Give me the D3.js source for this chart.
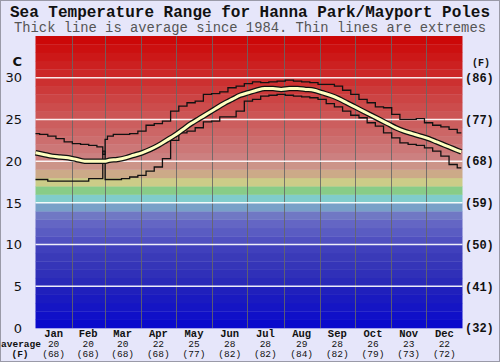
<!DOCTYPE html>
<html><head><meta charset="utf-8">
<script src="https://cdn.jsdelivr.net/npm/d3@7"></script>
<style>body{margin:0;background:#e6e6fa}svg{display:block}</style>
</head><body><div id="c"></div>
<script>
const title = "Sea Temperature Range for Hanna Park/Mayport Poles";
const subtitle = "Thick line is average since 1984. Thin lines are extremes";
const months = ["Jan","Feb","Mar","Apr","May","Jun","Jul","Aug","Sep","Oct","Nov","Dec"];
const monthDays = [31,28,31,30,31,30,31,31,30,31,30,31];
const monthAvgC = [20,20,20,22,25,28,28,29,28,26,23,22];
const monthAvgF = [68,68,68,68,77,82,82,84,82,79,73,72];
const tickC = [0,5,10,15,20,25,30];
const tickF = [32,41,50,59,68,77,86];
const days = [0,7,14,21,28,35,42,49,56,59,60,63,70,77,84,91,98,105,112,119,126,133,140,147,154,161,168,175,182,189,196,203,210,217,224,231,238,245,252,259,266,273,280,287,294,301,308,315,322,329,336,343,350,357,364];
const avgT = [21.0,20.8,20.6,20.5,20.4,20.2,20.0,20.0,20.0,20.0,20.0,20.1,20.2,20.4,20.7,21.0,21.4,21.9,22.5,23.1,23.8,24.5,25.1,25.7,26.3,26.9,27.4,27.9,28.2,28.5,28.7,28.7,28.6,28.7,28.7,28.6,28.5,28.2,27.9,27.5,27.0,26.5,26.0,25.5,25.0,24.5,24.0,23.6,23.3,23.0,22.7,22.3,21.9,21.5,21.1];
const maxT = [23.3,23.2,23.0,22.7,22.3,22.1,22.0,21.9,21.7,20.8,22.6,23.0,23.2,23.2,23.3,23.6,24.3,24.5,24.8,26.0,26.6,27.0,27.2,28.0,28.1,28.3,28.8,29.0,29.3,29.5,29.4,29.5,29.6,29.7,29.6,29.5,29.4,29.2,29.2,29.0,28.5,28.0,27.4,27.0,26.5,26.4,25.6,25.0,25.0,25.1,24.6,24.3,24.1,23.8,23.4];
const minT = [17.8,17.8,17.6,17.6,17.6,17.6,17.6,17.9,17.9,21.2,17.8,17.8,17.8,17.9,18.1,18.3,18.8,19.3,20.3,22.5,23.4,23.6,24.0,24.7,24.8,25.3,25.3,26.0,27.2,27.4,27.8,27.9,28.0,27.9,27.8,27.7,27.6,27.4,26.9,26.5,26.0,25.5,25.2,24.6,24.2,23.4,22.8,22.2,22.0,21.9,21.6,21.2,20.6,19.6,19.2];
const bandColors = ["#0a0acc","#1010c8","#1515c4","#1a1ac0","#2020bc","#2a2ab8","#3030b8","#3535b8","#3a3ab8","#4040bc","#5050c0","#5a5cc2","#6466c4","#7078c4","#78a0c8","#80cccc","#88cc88","#cccc88","#ccaa88","#cc9488","#cc8080","#cc7777","#cc6e6e","#cc6666","#cc5e5e","#cc5555","#cc4c4c","#cc4444","#cc3a3a","#cc3030","#cc2828","#cc2020","#cc1818","#cc1010","#cc0808"];

const W=500,H=362;
const svg=d3.select("#c").append("svg").attr("width",W).attr("height",H);
svg.append("rect").attr("x",0.5).attr("y",0.5).attr("width",W-1).attr("height",H-1).attr("fill","#e6e6fa").attr("stroke","#9a9aa8");
const x=d3.scaleLinear().domain([0,365]).range([35.5,462.5]);
const y=d3.scaleLinear().domain([0,35]).range([328,36]);
const mono="'Liberation Mono','Courier New',monospace";
const sans="'DejaVu Sans',Verdana,sans-serif";

svg.append("text").attr("x",W/2).attr("y",17).attr("text-anchor","middle").attr("font-family",mono).attr("font-weight","bold").attr("font-size",16).attr("fill","#111").text(title);
svg.append("text").attr("x",W/2).attr("y",32).attr("text-anchor","middle").attr("font-family",mono).attr("font-size",13.8).attr("fill","#555").text(subtitle);

// bands
svg.append("g").selectAll("rect").data(bandColors).join("rect")
 .attr("x",x(0)).attr("width",x(365)-x(0))
 .attr("y",(c,i)=>y(i+1)).attr("height",(c,i)=>y(i)-y(i+1)+0.3).attr("fill",c=>c);

// month lines
const starts=[];let acc=0;monthDays.forEach(d=>{starts.push(acc);acc+=d;});
svg.append("g").selectAll("line").data(starts.slice(1)).join("line")
 .attr("x1",d=>Math.round(x(d))+0.5).attr("x2",d=>Math.round(x(d))+0.5).attr("y1",y(35)).attr("y2",y(0))
 .attr("stroke","#666").attr("stroke-opacity",0.85).attr("stroke-width",1);
// horizontal white lines
svg.append("g").selectAll("line").data(tickC.filter(t=>t>0)).join("line")
 .attr("x1",x(0)).attr("x2",x(365)).attr("y1",d=>y(d)).attr("y2",d=>y(d))
 .attr("stroke","#fff").attr("stroke-opacity",0.9).attr("stroke-width",1.5);

const pts=(arr)=>days.map((d,i)=>[d,arr[i]]);
const stepLine=d3.line().x(d=>x(d[0])).y(d=>y(d[1])).curve(d3.curveStep);
const avgLine=d3.line().x(d=>x(d[0])).y(d=>y(d[1])).curve(d3.curveMonotoneX);
svg.append("path").attr("d",stepLine(pts(maxT))).attr("fill","none").attr("stroke","#111").attr("stroke-width",1.3);
svg.append("path").attr("d",stepLine(pts(minT))).attr("fill","none").attr("stroke","#111").attr("stroke-width",1.3);
svg.append("path").attr("d",avgLine(pts(avgT))).attr("fill","none").attr("stroke","#111").attr("stroke-width",5.5);
svg.append("path").attr("d",avgLine(pts(avgT))).attr("fill","none").attr("stroke","#ffffc0").attr("stroke-width",3);

// left axis labels
svg.append("g").selectAll("text").data(tickC).join("text")
 .attr("x",22).attr("y",d=>y(d)).attr("dy","0.36em").attr("text-anchor","end")
 .attr("font-family",sans).attr("font-size",13).attr("fill","#111").text(d=>d);
svg.append("text").attr("x",22).attr("y",61).attr("dy","0.36em").attr("text-anchor","end").attr("font-family",sans).attr("font-weight","bold").attr("font-size",13).attr("fill","#111").text("C");
// right axis labels
svg.append("g").selectAll("text").data(tickC).join("text")
 .attr("x",465).attr("y",d=>y(d)).attr("dy","0.36em").attr("text-anchor","start")
 .attr("font-family",mono).attr("font-weight","bold").attr("font-size",12).attr("fill","#111").text((d,i)=>"("+tickF[i]+")");
svg.append("text").attr("x",481).attr("y",62).attr("dy","0.36em").attr("text-anchor","middle").attr("font-family",mono).attr("font-weight","bold").attr("font-size",10).attr("fill","#111").text("(F)");

// bottom
const mid=starts.map((s,i)=>s+monthDays[i]/2);
const bg=svg.append("g").attr("font-family",mono).attr("fill","#111").attr("text-anchor","middle");
bg.selectAll("text.m").data(months).join("text").attr("class","m").attr("x",(d,i)=>x(mid[i])).attr("y",337).attr("font-weight","bold").attr("font-size",10.5).text(d=>d);
bg.selectAll("text.c").data(monthAvgC).join("text").attr("class","c").attr("x",(d,i)=>x(mid[i])).attr("y",347).attr("font-size",9.5).text(d=>d);
bg.selectAll("text.f").data(monthAvgF).join("text").attr("class","f").attr("x",(d,i)=>x(mid[i])).attr("y",357).attr("font-size",9.5).text(d=>"("+d+")");
bg.append("text").attr("x",21).attr("y",347).attr("font-weight","bold").attr("font-size",9.5).text("average");
bg.append("text").attr("x",20).attr("y",357).attr("font-weight","bold").attr("font-size",9.5).text("(F)");
</script></body></html>
